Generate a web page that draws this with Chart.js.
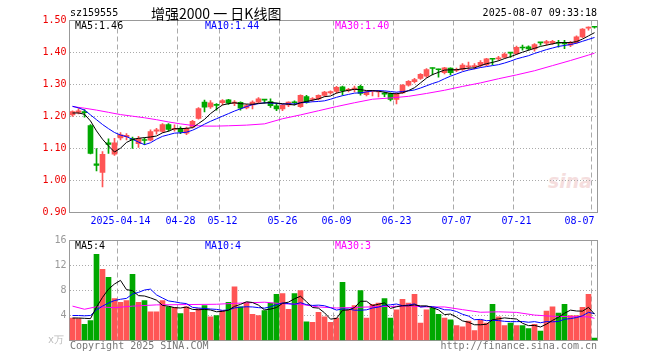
<!DOCTYPE html>
<html><head><meta charset="utf-8">
<script src="https://cdn.jsdelivr.net/npm/chart.js@4"></script>
<style>
body{margin:0;background:#fff}
#wrap{position:relative;width:660px;height:360px;overflow:hidden;background:#fff}
canvas{position:absolute;left:0}
.t{position:absolute;font:10px "DejaVu Sans Mono",monospace;line-height:12px;white-space:pre;color:#000}
</style></head>
<body>
<div id="wrap">
<div class="t" style="left:548px;top:170px;font:italic bold 19px 'DejaVu Sans',sans-serif;line-height:22px;color:#f5dede">sina</div>
<canvas id="pc" width="660" height="230" style="top:0"></canvas>
<canvas id="vc" width="660" height="130" style="top:230px"></canvas>
<div class="t" style="left:70px;top:7px">sz159555</div>
<div class="t" style="left:151px;top:4px;font:14px 'Noto Sans CJK SC',sans-serif;line-height:18px">增强2000 一 日K线图</div>
<div class="t" style="right:63px;top:7px">2025-08-07 09:33:18</div>
<div class="t" style="left:75px;top:20px">MA5:1.46</div>
<div class="t" style="left:205px;top:20px;color:#00f">MA10:1.44</div>
<div class="t" style="left:335px;top:20px;color:#f0f">MA30:1.40</div>
<div class="t" style="left:75px;top:240px">MA5:4</div>
<div class="t" style="left:205px;top:240px;color:#00f">MA10:4</div>
<div class="t" style="left:335px;top:240px;color:#f0f">MA30:3</div>
<div class="t" style="left:48px;top:334px;color:#bbb">x万</div>
<div class="t" style="left:70px;top:340px;color:#777">Copyright 2025 SINA.COM</div>
<div class="t" style="right:63px;top:340px;color:#777">http://finance.sina.com.cn</div>
</div>
<script>
const dates = ['2025-04-01','2025-04-02','2025-04-03','2025-04-07','2025-04-08','2025-04-09','2025-04-10','2025-04-11','2025-04-14','2025-04-15','2025-04-16','2025-04-17','2025-04-18','2025-04-21','2025-04-22','2025-04-23','2025-04-24','2025-04-25','2025-04-28','2025-04-29','2025-04-30',
'2025-05-06','2025-05-07','2025-05-08','2025-05-09','2025-05-12','2025-05-13','2025-05-14','2025-05-15','2025-05-16','2025-05-19','2025-05-20','2025-05-21','2025-05-22','2025-05-23','2025-05-26','2025-05-27','2025-05-28','2025-05-29','2025-05-30',
'2025-06-03','2025-06-04','2025-06-05','2025-06-06','2025-06-09','2025-06-10','2025-06-11','2025-06-12','2025-06-13','2025-06-16','2025-06-17','2025-06-18','2025-06-19','2025-06-20','2025-06-23','2025-06-24','2025-06-25','2025-06-26','2025-06-27','2025-06-30',
'2025-07-01','2025-07-02','2025-07-03','2025-07-04','2025-07-07','2025-07-08','2025-07-09','2025-07-10','2025-07-11','2025-07-14','2025-07-15','2025-07-16','2025-07-17','2025-07-18','2025-07-21','2025-07-22','2025-07-23','2025-07-24','2025-07-25','2025-07-28','2025-07-29','2025-07-30','2025-07-31',
'2025-08-01','2025-08-04','2025-08-05','2025-08-06','2025-08-07'];

const open = [1.205,1.213,1.215,1.172,1.052,1.025,1.118,1.082,1.133,1.137,1.131,1.115,1.128,1.126,1.154,1.153,1.175,1.160,1.163,1.148,1.167,1.194,1.245,1.230,1.237,1.243,1.252,1.241,1.244,1.227,
1.236,1.245,1.254,1.247,1.233,1.224,1.236,1.246,1.231,1.262,1.253,1.255,1.266,1.274,1.278,1.293,1.281,1.284,1.294,1.268,1.278,1.277,1.272,1.272,1.253,1.274,1.298,1.309,1.319,1.326,
1.352,1.348,1.337,1.351,1.344,1.347,1.355,1.356,1.360,1.361,1.381,1.380,1.385,1.400,1.396,1.416,1.418,1.411,1.432,1.429,1.428,1.431,1.430,1.423,1.431,1.449,1.476,1.481];
const high = [1.218,1.225,1.222,1.175,1.100,1.090,1.130,1.132,1.150,1.147,1.136,1.138,1.133,1.158,1.163,1.178,1.178,1.174,1.168,1.167,1.188,1.228,1.251,1.250,1.240,1.253,1.254,1.250,1.246,1.238,
1.249,1.259,1.254,1.255,1.242,1.238,1.246,1.249,1.268,1.266,1.259,1.268,1.279,1.280,1.294,1.295,1.288,1.295,1.298,1.280,1.282,1.282,1.276,1.274,1.274,1.300,1.312,1.319,1.334,1.350,
1.352,1.348,1.354,1.352,1.351,1.365,1.370,1.365,1.375,1.382,1.381,1.388,1.399,1.400,1.420,1.423,1.421,1.428,1.432,1.438,1.438,1.438,1.438,1.435,1.452,1.475,1.480,1.481];
const low = [1.200,1.208,1.198,1.083,1.030,0.980,1.085,1.078,1.127,1.127,1.100,1.103,1.112,1.124,1.145,1.150,1.154,1.154,1.146,1.143,1.164,1.192,1.214,1.225,1.220,1.236,1.238,1.234,1.220,1.224,
1.224,1.242,1.242,1.228,1.218,1.218,1.231,1.236,1.228,1.242,1.247,1.252,1.263,1.270,1.273,1.267,1.277,1.277,1.267,1.264,1.264,1.261,1.262,1.249,1.239,1.272,1.295,1.305,1.316,1.322,
1.330,1.323,1.333,1.330,1.340,1.344,1.347,1.349,1.354,1.359,1.361,1.375,1.382,1.385,1.393,1.407,1.407,1.404,1.423,1.423,1.425,1.417,1.412,1.418,1.428,1.446,1.470,1.476];
const close = [1.215,1.218,1.212,1.085,1.047,1.082,1.113,1.118,1.143,1.141,1.127,1.132,1.125,1.153,1.158,1.175,1.160,1.163,1.152,1.163,1.185,1.225,1.229,1.243,1.235,1.250,1.242,1.245,1.226,1.234,
1.245,1.255,1.251,1.234,1.224,1.236,1.245,1.243,1.266,1.245,1.256,1.266,1.276,1.278,1.291,1.281,1.285,1.289,1.272,1.277,1.280,1.279,1.270,1.253,1.272,1.298,1.310,1.315,1.332,1.347,
1.350,1.346,1.352,1.337,1.347,1.361,1.358,1.358,1.369,1.380,1.379,1.383,1.395,1.398,1.416,1.414,1.411,1.425,1.430,1.434,1.435,1.429,1.427,1.432,1.449,1.473,1.478,1.479];
const volume = [3.6,3.5,2.6,3.2,13.8,11.4,10.1,6.7,6.1,6.4,10.6,6.1,6.4,4.6,4.6,6.4,5.4,5.3,4.3,5.4,4.5,5.1,5.6,3.8,4.0,4.8,6.1,8.6,5.4,6.1,
4.2,4.0,4.8,6.0,7.4,7.5,5.0,7.5,8.0,3.0,2.9,4.5,3.8,2.9,3.6,9.3,4.9,5.6,8.0,3.6,5.8,6.0,6.7,3.6,4.9,6.6,6.0,7.4,2.8,4.9,
5.2,4.2,3.6,3.3,2.4,2.2,3.1,1.6,3.3,2.8,5.8,3.8,2.4,2.8,2.4,2.4,1.9,2.6,1.5,4.7,5.4,4.4,5.8,4.0,4.0,5.3,7.4,0.4];

const ma5 = [1.211,1.211,1.207,1.186,1.155,1.129,1.108,1.089,1.101,1.119,1.128,1.132,1.134,1.136,1.139,1.149,1.154,1.162,1.162,1.163,1.165,1.178,1.191,1.209,1.223,1.236,1.240,1.243,1.240,1.239,
1.238,1.241,1.242,1.244,1.242,1.240,1.238,1.236,1.243,1.247,1.251,1.255,1.262,1.264,1.273,1.278,1.282,1.285,1.284,1.281,1.281,1.279,1.276,1.272,1.271,1.274,1.281,1.290,1.305,1.320,
1.331,1.338,1.345,1.346,1.346,1.349,1.351,1.352,1.359,1.365,1.369,1.374,1.381,1.387,1.394,1.401,1.407,1.413,1.419,1.423,1.427,1.431,1.431,1.431,1.434,1.442,1.452,1.462];
const ma10 = [1.232,1.227,1.220,1.205,1.190,1.175,1.162,1.150,1.142,1.137,1.129,1.120,1.112,1.118,1.129,1.138,1.143,1.148,1.149,1.151,1.157,1.166,1.176,1.185,1.193,1.201,1.209,1.217,1.224,1.231,
1.237,1.240,1.243,1.242,1.241,1.239,1.240,1.239,1.243,1.244,1.246,1.247,1.249,1.254,1.260,1.265,1.269,1.273,1.274,1.277,1.280,1.281,1.280,1.278,1.276,1.278,1.280,1.283,1.289,1.296,
1.303,1.309,1.318,1.326,1.333,1.340,1.345,1.349,1.353,1.356,1.359,1.362,1.367,1.373,1.380,1.385,1.390,1.397,1.403,1.409,1.414,1.419,1.422,1.425,1.429,1.435,1.441,1.447];
const ma30Idx = [0,2,4,6,8,10,12,14,16,18,20,22,24,26,29,32,35,38,41,44,47,50,53,56,59,62,65,68,71,74,77,80,83,86,87];
const ma30Val = [1.231,1.226,1.220,1.213,1.206,1.201,1.196,1.190,1.183,1.177,1.172,1.170,1.170,1.171,1.173,1.177,1.193,1.205,1.218,1.231,1.243,1.254,1.258,1.263,1.272,1.282,1.294,1.305,1.318,1.330,1.343,1.359,1.375,1.392,1.398];

const vma5 = [3.6,3.6,3.55,3.5,5.34,6.9,8.22,9.04,9.62,8.14,7.98,7.18,7.12,6.82,6.46,5.62,5.48,5.26,5.2,5.36,4.98,4.92,4.98,4.88,4.6,4.66,4.86,5.46,5.78,6.2,
6.08,5.66,4.9,5.02,5.28,5.94,6.14,6.68,7.08,6.2,5.28,5.18,4.44,3.42,3.54,4.82,4.9,5.26,6.28,6.28,5.58,5.8,6.02,5.14,5.4,5.56,5.56,5.7,5.54,5.54,
5.26,4.9,4.14,4.24,3.74,3.14,2.92,2.52,2.52,2.6,3.32,3.46,3.62,3.52,3.44,2.76,2.38,2.42,2.16,2.62,3.22,3.72,4.36,4.86,4.72,4.7,5.3,4.22];
const vma10 = [4.0,4.0,3.95,4.0,4.9,5.5,6.0,6.4,6.6,6.74,7.44,7.7,8.08,8.22,7.3,6.8,6.33,6.19,6.01,5.91,5.3,5.2,5.12,5.04,4.98,4.82,4.89,5.22,5.33,5.4,
5.37,5.26,5.18,5.4,5.74,6.01,5.9,5.79,6.05,5.74,5.61,5.66,5.56,5.25,4.87,5.05,5.04,4.85,4.85,4.91,5.2,5.35,5.64,5.71,5.84,5.57,5.68,5.86,5.34,5.47,
5.41,5.23,4.92,4.89,4.64,4.2,3.91,3.33,3.38,3.17,3.23,3.19,3.07,3.02,3.02,3.04,2.92,3.02,2.84,3.03,2.99,3.05,3.39,3.51,3.67,3.96,4.51,4.29];
const vma30Idx = [0,2,4,7,10,14,19,24,27,29,32,35,38,41,44,47,50,53,56,59,62,65,68,71,74,77,80,83,86,87];
const vma30Val = [5.5,5.0,5.4,5.25,5.5,5.7,5.75,5.8,5.95,6.02,6.13,5.88,5.8,5.37,5.2,5.29,5.39,5.45,5.54,5.37,5.37,4.94,4.52,4.59,4.5,4.07,3.88,3.81,3.78,3.55];

const tickDates = ['2025-04-14','2025-04-28','2025-05-12','2025-05-26','2025-06-09','2025-06-23','2025-07-07','2025-07-21','2025-08-07'];
const tickTexts = ['2025-04-14','04-28','05-12','05-26','06-09','06-23','07-07','07-21','08-07     '];
const priceTicks = [0.9,1.0,1.1,1.2,1.3,1.4,1.5];
const volTicks = [0,4,8,12,16];

const UP = '#ff5555', DN = '#00a800';
const GRID = '#aaaaaa';
const tickMap = {};
tickDates.forEach((d, i) => { tickMap[dates.indexOf(d)] = tickTexts[i]; });
const isUp = i => close[i] >= open[i];
const candleColor = ctx => isUp(ctx.dataIndex) ? UP : DN;
const sparse = (idx, val) => idx.map((k, j) => ({x: dates[k], y: val[j]}));

Chart.defaults.font.family = "'DejaVu Sans Mono', monospace";
Chart.defaults.font.size = 10;

const frame = {
  id: 'frame',
  beforeDatasetsDraw(chart) {
    const a = chart.chartArea, c = chart.ctx;
    c.save(); c.strokeStyle = '#999'; c.lineWidth = 1;
    c.strokeRect(a.left, a.top, a.right - a.left, a.bottom - a.top);
    c.restore();
  }
};

function xScale(showLabels, h) {
  return {
    type: 'category', offset: true,
    grid: {
      offset: true, drawTicks: false, lineWidth: 1,
      color: ctx => (ctx.index !== undefined && tickMap[ctx.index] !== undefined) ? GRID : 'rgba(0,0,0,0)'
    },
    border: {display: false, dash: [5, 3]},
    ticks: {
      display: showLabels, autoSkip: false, maxRotation: 0, minRotation: 0, padding: 3,
      color: '#0000ff',
      callback: (v, i) => tickMap[i] !== undefined ? tickMap[i] : ''
    },
    afterFit: s => { s.height = h; }
  };
}

function barSet(data, thick, color) {
  return {type: 'bar', data, barThickness: thick, grouped: false, minBarLength: 1,
    borderWidth: 0, backgroundColor: color};
}
function lineSet(data, color) {
  return {type: 'line', data, borderColor: color, borderWidth: 1, pointRadius: 0,
    tension: 0, spanGaps: true, fill: false};
}

new Chart(document.getElementById('pc'), {
  type: 'bar',
  data: {
    labels: dates,
    datasets: [
      lineSet(ma5, '#000000'),
      lineSet(ma10, '#0000ff'),
      lineSet(sparse(ma30Idx, ma30Val), '#ff00ff'),
      barSet(dates.map((d, i) => [open[i], close[i]]), 5, candleColor),
      barSet(dates.map((d, i) => [low[i], high[i]]), 1, candleColor)
    ]
  },
  options: {
    responsive: false, animation: false, devicePixelRatio: 1,
    layout: {padding: {left: 0, top: 20.5, right: 62.5, bottom: 0}},
    plugins: {legend: {display: false}, tooltip: {enabled: false}},
    scales: {
      x: xScale(true, 17.5),
      y: {
        min: 0.9, max: 1.5,
        afterBuildTicks: s => { s.ticks = priceTicks.map(v => ({value: v})); },
        afterFit: s => { s.width = 69.5; },
        grid: {drawTicks: false, color: ctx => (ctx.tick && (ctx.tick.value === 1.5 || ctx.tick.value === 0.9)) ? 'rgba(0,0,0,0)' : GRID},
        border: {display: false, dash: [1, 2]},
        ticks: {color: '#ee0000', padding: 3, callback: v => Number(v).toFixed(2)}
      }
    }
  },
  plugins: [frame]
});

new Chart(document.getElementById('vc'), {
  type: 'bar',
  data: {
    labels: dates,
    datasets: [
      lineSet(vma5, '#000000'),
      lineSet(vma10, '#0000ff'),
      lineSet(sparse(vma30Idx, vma30Val), '#ff00ff'),
      barSet(volume, 5, candleColor)
    ]
  },
  options: {
    responsive: false, animation: false, devicePixelRatio: 1,
    layout: {padding: {left: 0, top: 10.5, right: 62.5, bottom: 0}},
    plugins: {legend: {display: false}, tooltip: {enabled: false}},
    scales: {
      x: xScale(false, 19.5),
      y: {
        min: 0, max: 16,
        afterBuildTicks: s => { s.ticks = volTicks.map(v => ({value: v})); },
        afterFit: s => { s.width = 69.5; },
        grid: {drawTicks: false, color: ctx => (ctx.tick && (ctx.tick.value === 16 || ctx.tick.value === 0)) ? 'rgba(0,0,0,0)' : GRID},
        border: {display: false, dash: [1, 2]},
        ticks: {color: '#999999', padding: 3, callback: v => v === 0 ? '' : String(v)}
      }
    }
  },
  plugins: [frame]
});
</script>
</body></html>
